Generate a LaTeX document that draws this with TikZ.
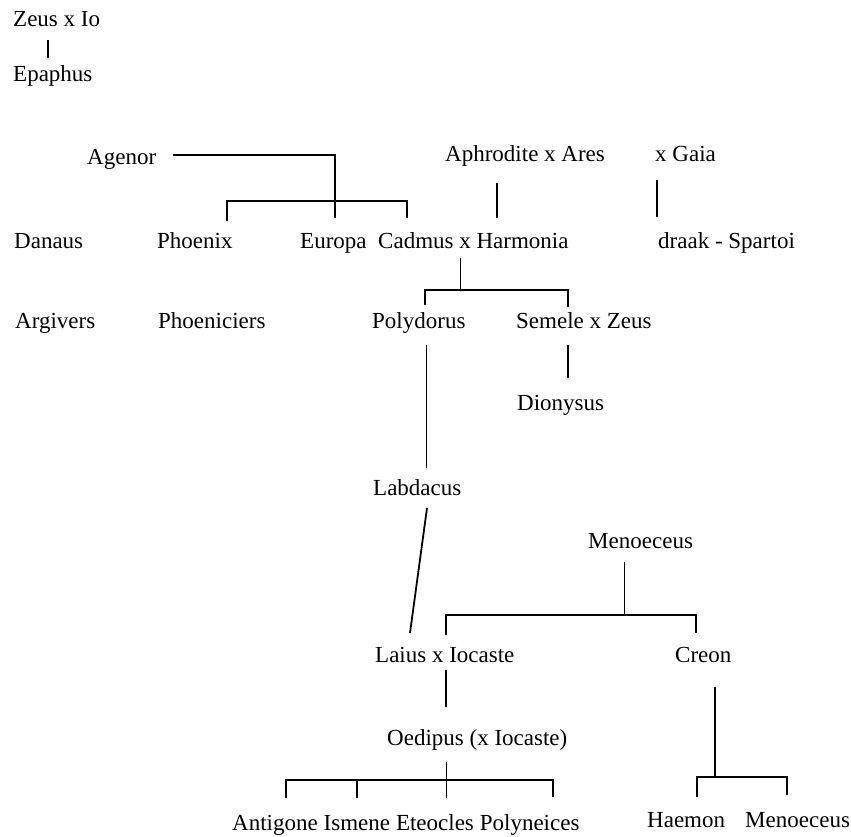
\documentclass[tikz,border=0pt]{standalone}
\usepackage{fontspec}
\setmainfont{Liberation Serif}
\begin{document}
\begin{tikzpicture}[x=1pt,y=-1pt,
  person/.style={anchor=base west, inner sep=0pt, font=\fontsize{23}{27}\selectfont},
  heavy/.style={line width=1.8pt, line cap=butt},
  light/.style={line width=1pt}]
\useasboundingbox[fill=white] (0,0) rectangle (851,837);
% people
\node[person] (zeus) at (13,27) {Zeus x Io};
\node[person] (epaphus) at (13,82) {Epaphus};
\node[person] (agenor) at (87,165) {Agenor};
\node[person] (aphrodite) at (445,162) {Aphrodite x Ares};
\node[person] (gaia) at (655,162) {x Gaia};
\node[person] (danaus) at (14,248) {Danaus};
\node[person] (phoenix) at (157,248) {Phoenix};
\node[person] (europa) at (300,248) {Europa};
\node[person] (cadmus) at (378,248) {Cadmus x Harmonia};
\node[person] (draak) at (658,248) {draak - Spartoi};
\node[person] (argivers) at (15,328) {Argivers};
\node[person] (phoeniciers) at (158,328) {Phoeniciers};
\node[person] (polydorus) at (372,328) {Polydorus};
\node[person] (semele) at (516,328) {Semele x Zeus};
\node[person] (dionysus) at (517,410) {Dionysus};
\node[person] (labdacus) at (373,495) {Labdacus};
\node[person] (menoeceus) at (588,548) {Menoeceus};
\node[person] (laius) at (375,662) {Laius x Iocaste};
\node[person] (creon) at (675,662) {Creon};
\node[person] (oedipus) at (387,745) {Oedipus (x Iocaste)};
\node[person] (antigone) at (232,830) {Antigone};
\node[person] (ismene) at ([xshift=5.5pt]antigone.base east) {Ismene};
\node[person] (eteocles) at ([xshift=5.5pt]ismene.base east) {Eteocles};
\node[person] (polyneices) at ([xshift=5.5pt]eteocles.base east) {Polyneices};
\node[person] (haemon) at (647,827) {Haemon};
\node[person] (menoeceusb) at (745,827) {Menoeceus};
% connector points
\coordinate (zeusA) at (48,40);   \coordinate (epaphusA) at (48,58);
\coordinate (agenorA) at (173,155); \coordinate (agenorB) at (335,155); \coordinate (europaA) at (335,218);
\coordinate (phoenixA) at (227,221); \coordinate (barAL) at (227,201); \coordinate (barAR) at (407,201); \coordinate (cadmusA) at (407,218);
\coordinate (aphroA) at (497,183); \coordinate (harmA) at (497,218);
\coordinate (gaiaA) at (657,180); \coordinate (draakA) at (657,217);
\coordinate (cadmusB) at (460,258); \coordinate (barB) at (460,290);
\coordinate (polyA) at (425,305); \coordinate (barBL) at (425,290); \coordinate (barBR) at (568,290); \coordinate (semeleA) at (568,307);
\coordinate (semeleB) at (568,345); \coordinate (dionysusA) at (568,378);
\coordinate (polyB) at (426,345); \coordinate (labdacusA) at (426,468);
\coordinate (labdacusB) at (427,508); \coordinate (laiusA) at (410,633);
\coordinate (menoA) at (624,562); \coordinate (barC) at (624,615);
\coordinate (laiusB) at (446,635); \coordinate (barCL) at (446,615); \coordinate (barCR) at (696,615); \coordinate (creonA) at (696,633);
\coordinate (laiusC) at (446,670); \coordinate (oedipusA) at (446,707);
\coordinate (oedipusB) at (446,762); \coordinate (eteoclesA) at (446,798);
\coordinate (antigoneA) at (286,798); \coordinate (barDL) at (286,780); \coordinate (barDR) at (553,780); \coordinate (polyneicesA) at (553,797);
\coordinate (barDI) at (357,780); \coordinate (ismeneA) at (357,798);
\coordinate (creonB) at (715,687); \coordinate (barE) at (715,777);
\coordinate (haemonA) at (697,797); \coordinate (barEL) at (697,777); \coordinate (barER) at (787,777); \coordinate (menoBA) at (787,795);
% connectors
\draw[heavy] (zeusA) -- (epaphusA);
\draw[heavy] (agenorA) -- (agenorB) -- (europaA);
\draw[heavy] (phoenixA) -- (barAL) -- (barAR) -- (cadmusA);
\draw[heavy] (aphroA) -- (harmA);
\draw[heavy] (gaiaA) -- (draakA);
\draw[light] (cadmusB) -- (barB);
\draw[heavy] (polyA) -- (barBL) -- (barBR) -- (semeleA);
\draw[heavy] (semeleB) -- (dionysusA);
\draw[light] (polyB) -- (labdacusA);
\draw[heavy] (labdacusB) -- (laiusA);
\draw[light] (menoA) -- (barC);
\draw[heavy] (laiusB) -- (barCL) -- (barCR) -- (creonA);
\draw[heavy] (laiusC) -- (oedipusA);
\draw[light] (oedipusB) -- (eteoclesA);
\draw[heavy] (antigoneA) -- (barDL) -- (barDR) -- (polyneicesA);
\draw[heavy] (barDI) -- (ismeneA);
\draw[heavy] (creonB) -- (barE);
\draw[heavy] (haemonA) -- (barEL) -- (barER) -- (menoBA);
\end{tikzpicture}
\end{document}
